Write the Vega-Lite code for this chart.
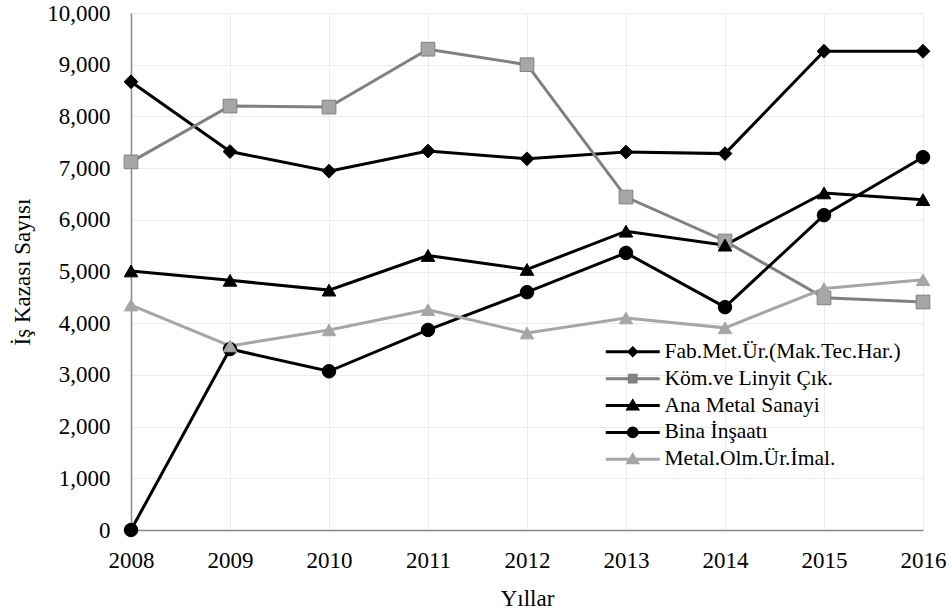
{
  "$schema": "https://vega.github.io/schema/vega-lite/v6.json",
  "width": 792,
  "height": 517,
  "autosize": {"type": "none"},
  "padding": {"left": 131, "top": 13, "right": 29, "bottom": 86},
  "background": "white",
  "config": {
    "font": "Liberation Serif",
    "view": {"stroke": null},
    "axis": {
      "labelFont": "Liberation Serif",
      "titleFont": "Liberation Serif",
      "labelFontSize": 23,
      "titleFontSize": 23,
      "labelColor": "#000000",
      "titleColor": "#000000",
      "titleFontWeight": "normal",
      "domainColor": "#898989",
      "domainWidth": 1.5,
      "gridColor": "#ececec",
      "gridWidth": 1,
      "ticks": false
    },
    "legend": {
      "labelFont": "Liberation Serif",
      "labelFontSize": 21.5,
      "labelColor": "#000000",
      "labelLimit": 0
    }
  },
  "data": {
    "values": [
      {"year": 2008, "series": "Fab.Met.Ür.(Mak.Tec.Har.)", "value": 8670},
      {"year": 2009, "series": "Fab.Met.Ür.(Mak.Tec.Har.)", "value": 7320},
      {"year": 2010, "series": "Fab.Met.Ür.(Mak.Tec.Har.)", "value": 6940},
      {"year": 2011, "series": "Fab.Met.Ür.(Mak.Tec.Har.)", "value": 7330},
      {"year": 2012, "series": "Fab.Met.Ür.(Mak.Tec.Har.)", "value": 7180},
      {"year": 2013, "series": "Fab.Met.Ür.(Mak.Tec.Har.)", "value": 7310},
      {"year": 2014, "series": "Fab.Met.Ür.(Mak.Tec.Har.)", "value": 7280},
      {"year": 2015, "series": "Fab.Met.Ür.(Mak.Tec.Har.)", "value": 9260},
      {"year": 2016, "series": "Fab.Met.Ür.(Mak.Tec.Har.)", "value": 9260},
      {"year": 2008, "series": "Köm.ve Linyit Çık.", "value": 7120},
      {"year": 2009, "series": "Köm.ve Linyit Çık.", "value": 8200},
      {"year": 2010, "series": "Köm.ve Linyit Çık.", "value": 8180},
      {"year": 2011, "series": "Köm.ve Linyit Çık.", "value": 9300},
      {"year": 2012, "series": "Köm.ve Linyit Çık.", "value": 9000},
      {"year": 2013, "series": "Köm.ve Linyit Çık.", "value": 6440},
      {"year": 2014, "series": "Köm.ve Linyit Çık.", "value": 5590},
      {"year": 2015, "series": "Köm.ve Linyit Çık.", "value": 4490},
      {"year": 2016, "series": "Köm.ve Linyit Çık.", "value": 4410},
      {"year": 2008, "series": "Ana Metal Sanayi", "value": 5010},
      {"year": 2009, "series": "Ana Metal Sanayi", "value": 4830},
      {"year": 2010, "series": "Ana Metal Sanayi", "value": 4640},
      {"year": 2011, "series": "Ana Metal Sanayi", "value": 5310},
      {"year": 2012, "series": "Ana Metal Sanayi", "value": 5040},
      {"year": 2013, "series": "Ana Metal Sanayi", "value": 5780},
      {"year": 2014, "series": "Ana Metal Sanayi", "value": 5510},
      {"year": 2015, "series": "Ana Metal Sanayi", "value": 6520},
      {"year": 2016, "series": "Ana Metal Sanayi", "value": 6390},
      {"year": 2008, "series": "Bina İnşaatı", "value": 0},
      {"year": 2009, "series": "Bina İnşaatı", "value": 3500},
      {"year": 2010, "series": "Bina İnşaatı", "value": 3070},
      {"year": 2011, "series": "Bina İnşaatı", "value": 3870},
      {"year": 2012, "series": "Bina İnşaatı", "value": 4600},
      {"year": 2013, "series": "Bina İnşaatı", "value": 5360},
      {"year": 2014, "series": "Bina İnşaatı", "value": 4310},
      {"year": 2015, "series": "Bina İnşaatı", "value": 6090},
      {"year": 2016, "series": "Bina İnşaatı", "value": 7210},
      {"year": 2008, "series": "Metal.Olm.Ür.İmal.", "value": 4350},
      {"year": 2009, "series": "Metal.Olm.Ür.İmal.", "value": 3560},
      {"year": 2010, "series": "Metal.Olm.Ür.İmal.", "value": 3870},
      {"year": 2011, "series": "Metal.Olm.Ür.İmal.", "value": 4260},
      {"year": 2012, "series": "Metal.Olm.Ür.İmal.", "value": 3810},
      {"year": 2013, "series": "Metal.Olm.Ür.İmal.", "value": 4100},
      {"year": 2014, "series": "Metal.Olm.Ür.İmal.", "value": 3910},
      {"year": 2015, "series": "Metal.Olm.Ür.İmal.", "value": 4670},
      {"year": 2016, "series": "Metal.Olm.Ür.İmal.", "value": 4840}
    ]
  },
  "encoding": {
    "x": {
      "field": "year",
      "type": "ordinal",
      "scale": {"type": "point", "padding": 0},
      "axis": {"title": "Yıllar", "labelAngle": 0, "labelPadding": 19, "titlePadding": 15, "grid": true}
    },
    "y": {
      "field": "value",
      "type": "quantitative",
      "scale": {"domain": [0, 10000], "nice": false},
      "axis": {
        "title": "İş Kazası Sayısı",
        "values": [0, 1000, 2000, 3000, 4000, 5000, 6000, 7000, 8000, 9000, 10000],
        "format": ",.0f",
        "labelPadding": 21,
        "titlePadding": 12,
        "grid": true
      }
    }
  },
  "layer": [
    {
      "mark": {"type": "line", "strokeWidth": 3},
      "encoding": {
        "stroke": {
          "field": "series",
          "type": "nominal",
          "scale": {
            "domain": ["Fab.Met.Ür.(Mak.Tec.Har.)", "Köm.ve Linyit Çık.", "Ana Metal Sanayi", "Bina İnşaatı", "Metal.Olm.Ür.İmal."],
            "range": ["#000000", "#808080", "#000000", "#000000", "#a6a6a6"]
          },
          "legend": null
        }
      }
    },
    {
      "mark": {"type": "point", "strokeWidth": 1, "opacity": 1},
      "encoding": {
        "shape": {
          "field": "series",
          "type": "nominal",
          "scale": {
            "domain": ["Fab.Met.Ür.(Mak.Tec.Har.)", "Köm.ve Linyit Çık.", "Ana Metal Sanayi", "Bina İnşaatı", "Metal.Olm.Ür.İmal."],
            "range": ["diamond", "square", "triangle-up", "circle", "triangle-up"]
          },
          "legend": null
        },
        "fill": {
          "field": "series",
          "type": "nominal",
          "scale": {
            "domain": ["Fab.Met.Ür.(Mak.Tec.Har.)", "Köm.ve Linyit Çık.", "Ana Metal Sanayi", "Bina İnşaatı", "Metal.Olm.Ür.İmal."],
            "range": ["#000000", "#a6a6a6", "#000000", "#000000", "#a6a6a6"]
          },
          "legend": null
        },
        "stroke": {
          "field": "series",
          "type": "nominal",
          "scale": {
            "domain": ["Fab.Met.Ür.(Mak.Tec.Har.)", "Köm.ve Linyit Çık.", "Ana Metal Sanayi", "Bina İnşaatı", "Metal.Olm.Ür.İmal."],
            "range": ["#000000", "#808080", "#000000", "#000000", "#a6a6a6"]
          },
          "legend": null
        },
        "size": {
          "field": "series",
          "type": "nominal",
          "scale": {
            "domain": ["Fab.Met.Ür.(Mak.Tec.Har.)", "Köm.ve Linyit Çık.", "Ana Metal Sanayi", "Bina İnşaatı", "Metal.Olm.Ür.İmal."],
            "range": [190, 180, 260, 210, 260]
          },
          "legend": null
        }
      }
    },
    {
      "mark": {"type": "point", "opacity": 0},
      "encoding": {
        "shape": {
          "field": "series",
          "type": "nominal",
          "scale": {
            "domain": ["Fab.Met.Ür.(Mak.Tec.Har.)", "Köm.ve Linyit Çık.", "Ana Metal Sanayi", "Bina İnşaatı", "Metal.Olm.Ür.İmal."],
            "range": [
              "M-4,0H4M0,-0.55L0.55,0L0,0.55L-0.55,0Z",
              "M-4,0H4M-0.5,-0.5H0.5V0.5H-0.5Z",
              "M-4,0H4M0,-0.65L0.7,0.5H-0.7Z",
              "M-4,0H4M-0.65,0A0.65,0.65,0,1,1,0.65,0A0.65,0.65,0,1,1,-0.65,0Z",
              "M-4,0H4M0,-0.65L0.7,0.5H-0.7Z"
            ]
          },
          "legend": {
            "title": null,
            "orient": "none",
            "legendX": 491,
            "legendY": 328,
            "padding": 0,
            "symbolSize": 182,
            "symbolStrokeWidth": 3,
            "symbolOpacity": 1,
            "labelOffset": 21,
            "rowPadding": 3.9
          }
        },
        "fill": {
          "field": "series",
          "type": "nominal",
          "scale": {
            "domain": ["Fab.Met.Ür.(Mak.Tec.Har.)", "Köm.ve Linyit Çık.", "Ana Metal Sanayi", "Bina İnşaatı", "Metal.Olm.Ür.İmal."],
            "range": ["#000000", "#a6a6a6", "#000000", "#000000", "#a6a6a6"]
          },
          "legend": {
            "title": null,
            "orient": "none",
            "legendX": 491,
            "legendY": 328,
            "padding": 0,
            "symbolSize": 182,
            "symbolStrokeWidth": 3,
            "symbolOpacity": 1,
            "labelOffset": 21,
            "rowPadding": 3.9
          }
        },
        "stroke": {
          "field": "series",
          "type": "nominal",
          "scale": {
            "domain": ["Fab.Met.Ür.(Mak.Tec.Har.)", "Köm.ve Linyit Çık.", "Ana Metal Sanayi", "Bina İnşaatı", "Metal.Olm.Ür.İmal."],
            "range": ["#000000", "#808080", "#000000", "#000000", "#a6a6a6"]
          },
          "legend": {
            "title": null,
            "orient": "none",
            "legendX": 491,
            "legendY": 328,
            "padding": 0,
            "symbolSize": 182,
            "symbolStrokeWidth": 3,
            "symbolOpacity": 1,
            "labelOffset": 21,
            "rowPadding": 3.9
          }
        }
      }
    }
  ],
  "resolve": {"scale": {"shape": "independent", "fill": "independent", "stroke": "independent", "size": "independent"}}
}
